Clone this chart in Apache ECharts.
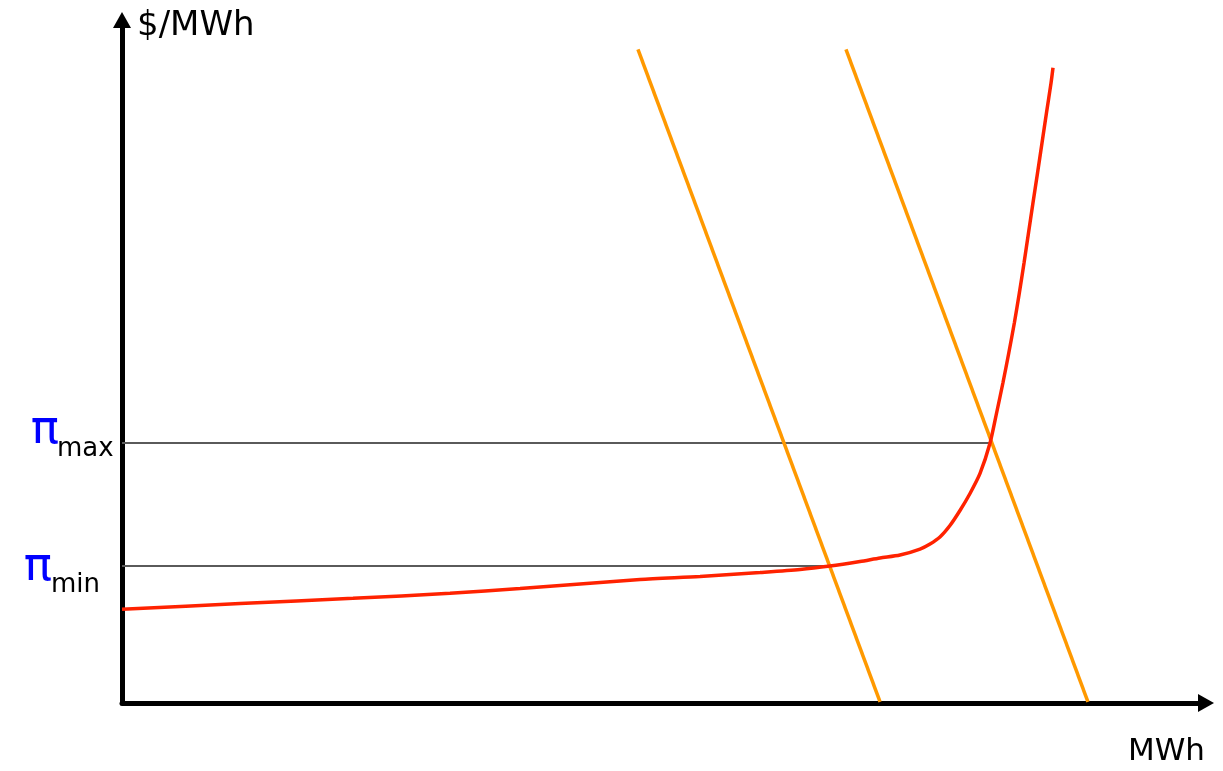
<!DOCTYPE html>
<html>
<head>
<meta charset="utf-8">
<script src="https://cdn.jsdelivr.net/npm/echarts@6/dist/echarts.min.js"></script>
<style>
html,body{margin:0;padding:0;background:#fff;}
#chart{width:1223px;height:771px;}
</style>
</head>
<body>
<div id="chart"></div>
<script>
// Supply curve (MWh, $/MWh) — arbitrary units
const supplyX = [0, 108.4, 212.1, 301.2, 365.5, 475.7, 530.8, 585.9, 622.6, 650.1, 677.7, 696.1, 714.4, 732.8, 742.0, 751.1, 760.3, 769.5, 778.7, 787.9, 797.1, 803.1, 808.9, 814.3, 819.4, 824.0, 828.3, 832.4, 836.5, 840.7, 844.8, 848.9, 853.1, 854.9];
const supplyY = [13.62, 14.46, 15.22, 15.94, 16.64, 17.95, 18.39, 18.97, 19.40, 19.91, 20.57, 21.08, 21.51, 22.38, 23.11, 24.13, 25.80, 27.98, 30.45, 33.36, 37.79, 42.15, 46.51, 50.87, 55.23, 59.59, 63.95, 68.31, 72.67, 77.03, 81.40, 85.76, 90.12, 92.34];
// Demand lines (two endpoints each)
const demand1X = [473.8, 696.1];
const demand1Y = [94.99, 0.15];
const demand2X = [664.8, 887.0];
const demand2Y = [94.99, 0.15];
// Price levels and where they meet the curves
const priceMax = 37.79, priceMaxX = 797.1;
const priceMin = 19.91, priceMinX = 650.1;
const labels = {yName: '$/MWh', xName: 'MWh', pi: 'π', max: 'max', min: 'min'};

const zip = (xs, ys) => xs.map((x, i) => [x, ys[i]]);

const chart = echarts.init(document.getElementById('chart'), null, {renderer: 'canvas'});
const axisCommon = {
  type: 'value', min: 0,
  axisLine: {show: true, lineStyle: {color: '#000', width: 5}, symbol: ['none', 'triangle'], symbolSize: [18, 16]},
  axisTick: {show: false}, axisLabel: {show: false}, splitLine: {show: false}
};
chart.setOption({
  animation: false,
  backgroundColor: '#fff',
  grid: {left: 122, right: 17, top: 20, bottom: 68},
  xAxis: Object.assign({}, axisCommon, {max: 995.4}),
  yAxis: Object.assign({}, axisCommon, {max: 99.27}),
  series: [
    {type: 'line', data: [[0, priceMax], [priceMaxX, priceMax]], symbol: 'none', lineStyle: {color: '#5a5a5a', width: 2}, z: 1},
    {type: 'line', data: [[0, priceMin], [priceMinX, priceMin]], symbol: 'none', lineStyle: {color: '#5a5a5a', width: 2}, z: 1},
    {type: 'line', data: zip(demand1X, demand1Y), symbol: 'none', lineStyle: {color: '#FF9900', width: 3.5}, z: 2},
    {type: 'line', data: zip(demand2X, demand2Y), symbol: 'none', lineStyle: {color: '#FF9900', width: 3.5}, z: 2},
    {type: 'line', data: zip(supplyX, supplyY), symbol: 'none', smooth: 0.25, lineStyle: {color: '#FF2200', width: 3.5}, z: 3}
  ]
});

const yMaxPx = chart.convertToPixel({gridIndex: 0}, [0, priceMax])[1];
const yMinPx = chart.convertToPixel({gridIndex: 0}, [0, priceMin])[1];
const font = '"DejaVu Sans", sans-serif';
chart.setOption({
  graphic: [
    {type: 'text', x: 137, y: 26.5, style: {text: labels.yName, font: '34px ' + font, fill: '#000', align: 'left', verticalAlign: 'middle'}},
    {type: 'text', x: 1205, y: 752, style: {text: labels.xName, font: '31px ' + font, fill: '#000', align: 'right', verticalAlign: 'middle'}},
    {type: 'text', x: 59, y: yMaxPx - 12.5, style: {text: labels.pi, font: '47px ' + font, fill: '#0000FF', align: 'right', verticalAlign: 'middle'}},
    {type: 'text', x: 57, y: yMaxPx + 6, style: {text: labels.max, font: '26px ' + font, fill: '#000', align: 'left', verticalAlign: 'middle'}},
    {type: 'text', x: 52, y: yMinPx + 1.5, style: {text: labels.pi, font: '47px ' + font, fill: '#0000FF', align: 'right', verticalAlign: 'middle'}},
    {type: 'text', x: 51, y: yMinPx + 19, style: {text: labels.min, font: '26px ' + font, fill: '#000', align: 'left', verticalAlign: 'middle'}}
  ]
});
</script>
</body>
</html>
